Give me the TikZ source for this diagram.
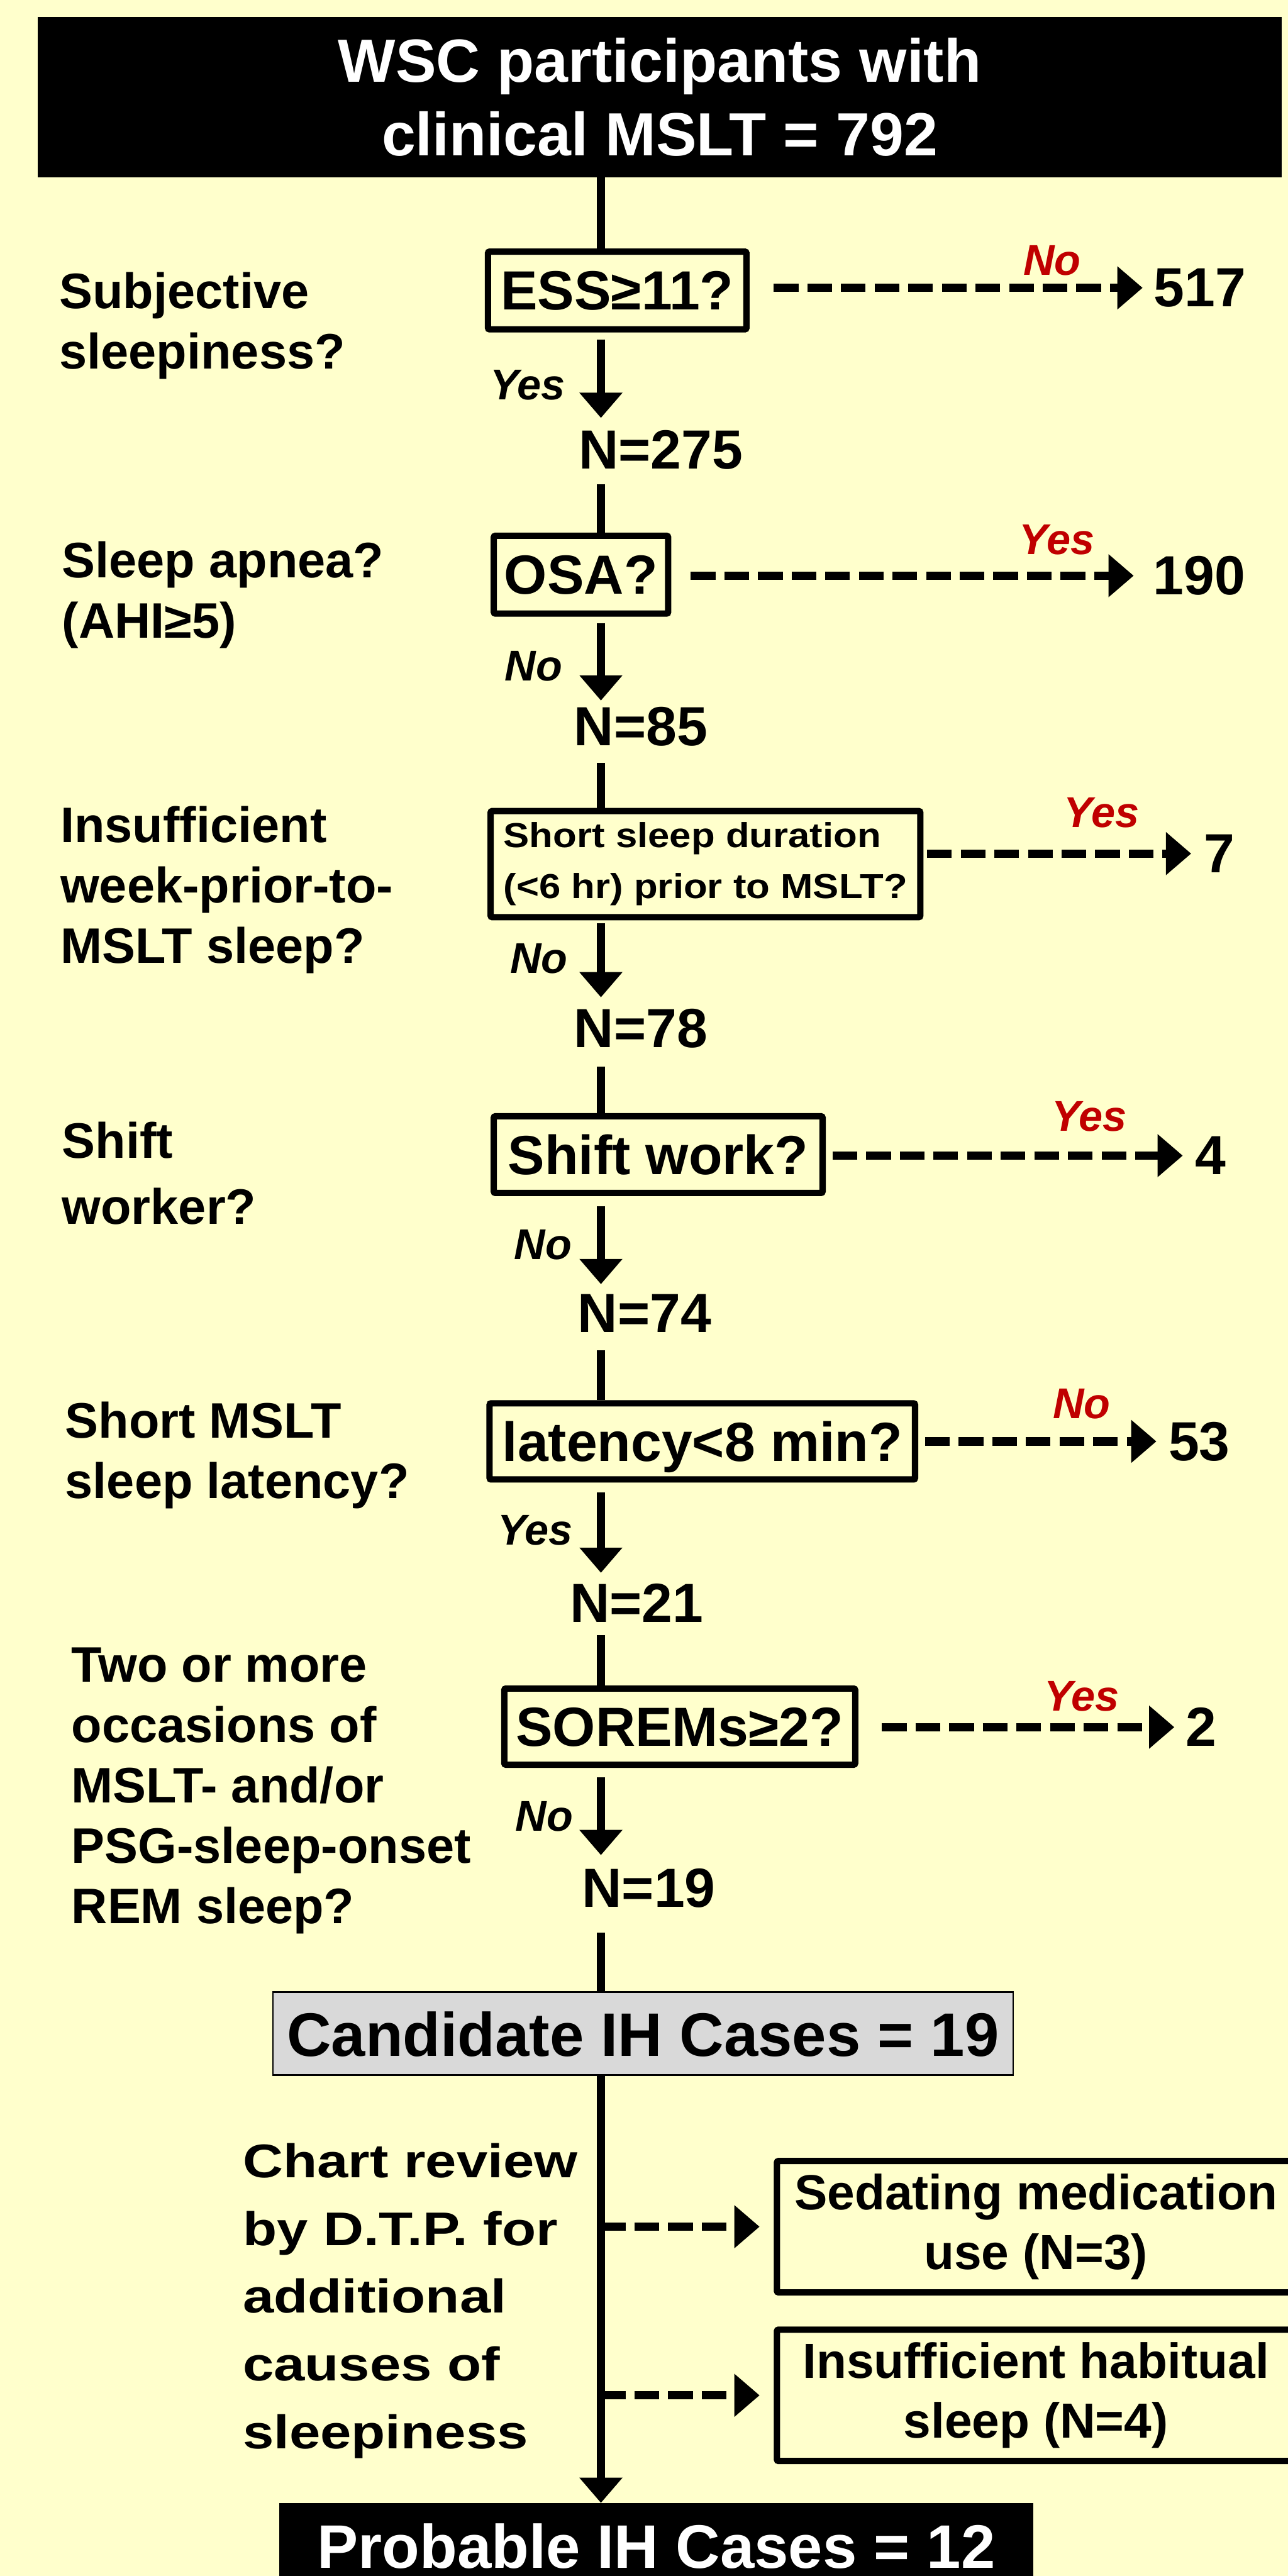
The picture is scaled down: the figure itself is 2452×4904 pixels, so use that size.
\documentclass[tikz,border=0pt]{standalone}
\usepackage{fontspec}
\setmainfont{Liberation Sans}
\newfontfamily\widefont[FakeStretch=1.18]{Liberation Sans}
\newfontfamily\wideshort[FakeStretch=1.12]{Liberation Sans}
\usetikzlibrary{arrows.meta,calc}
\definecolor{bg}{HTML}{FFFFCC}
\definecolor{nored}{HTML}{C00000}
\definecolor{candgray}{HTML}{D9D9D9}
\begin{document}
\begin{tikzpicture}[x=1pt,y=-1pt,
  qbox/.style={draw=black, line width=12pt, rounded corners=3pt, inner sep=0pt, text depth=0pt, font=\fontsize{105}{120}\selectfont\bfseries},
  nlab/.style={inner sep=0pt, font=\fontsize{105}{120}\selectfont\bfseries},
  side/.style={inner sep=0pt, align=left, anchor=north west, font=\fontsize{95}{115}\selectfont\bfseries},
  yn/.style={inner sep=0pt, font=\fontsize{82}{90}\selectfont\bfseries\itshape},
  ynred/.style={yn, text=nored},
  flow/.style={line width=16pt},
  arr/.style={line width=16pt, -{Triangle[length=48pt,width=79pt]}},
  darr/.style={arr, dash pattern=on 47pt off 17pt},
]
\path[use as bounding box, clip] (0,0) rectangle (2452,4904);
\fill[bg] (0,0) rectangle (2452,4904);
\coordinate (sp) at (1144,0);

% main boxes
\node[fill=black, text=white, minimum width=2368pt, minimum height=306pt, inner sep=0pt, align=center,
      font=\fontsize{116}{140}\selectfont\bfseries] (top) at (1256,185) {WSC participants with\\clinical MSLT = 792};
\node[qbox, minimum width=492pt, minimum height=148pt] (ess) at (1175,553) {ESS≥11?};
\node[qbox, minimum width=332pt, minimum height=148pt] (osa) at (1106,1094) {OSA?};
\node[qbox, minimum width=818pt, minimum height=202pt, text depth=, align=left,
      font=\wideshort\fontsize{66}{97}\selectfont\bfseries] (short) at (1343,1645) {Short sleep duration\\(<6 hr) prior to MSLT?};
\node[qbox, minimum width=626pt, minimum height=146pt] (shift) at (1253,2198) {Shift work?};
\node[qbox, minimum width=810pt, minimum height=145pt] (lat) at (1337,2744) {latency<8 min?};
\node[qbox, minimum width=668pt, minimum height=145pt] (sor) at (1294,3287) {SOREMs≥2?};
\node[draw=black, fill=candgray, line width=3pt, minimum width=1409pt, minimum height=158pt, inner sep=0pt, text depth=0pt,
      font=\fontsize{117}{130}\selectfont\bfseries] (cand) at (1224,3871.5) {Candidate IH Cases = 19};
\node[fill=black, text=white, minimum width=1435pt, minimum height=139pt, inner sep=0pt, text depth=0pt, text height=109pt,
      font=\fontsize{117}{130}\selectfont\bfseries] (prob) at (1249.5,4834.5) {Probable IH Cases = 12};
\node[qbox, minimum width=986pt, minimum height=250pt, text depth=, align=center,
      font=\fontsize{94}{114}\selectfont\bfseries] (sed) at (1972,4239) {Sedating medication\\use (N=3)};
\node[qbox, minimum width=986pt, minimum height=250pt, text depth=, align=center,
      font=\fontsize{94}{114}\selectfont\bfseries] (hab) at (1972,4560) {Insufficient habitual\\sleep (N=4)};

% N labels
\node[nlab] (n275) at (1258,857) {N=275};
\node[nlab] (n85) at (1220,1383) {N=85};
\node[nlab] (n78) at (1220,1958) {N=78};
\node[nlab] (n74) at (1227,2500) {N=74};
\node[nlab] (n21) at (1212,3052) {N=21};
\node[nlab] (n19) at (1235,3595) {N=19};

% excluded counts
\node[nlab] (x517) at (2284,548) {517};
\node[nlab] (x190) at (2283,1096) {190};
\node[nlab] (x7) at (2321,1625) {7};
\node[nlab] (x4) at (2304,2200) {4};
\node[nlab] (x53) at (2283,2744) {53};
\node[nlab] (x2) at (2287,3288) {2};

% red labels
\node[ynred] (r1) at (2003,496) {No};
\node[ynred] (r2) at (2012,1028) {Yes};
\node[ynred] (r3) at (2097,1547) {Yes};
\node[ynred] (r4) at (2074,2125) {Yes};
\node[ynred] (r5) at (2059,2672) {No};
\node[ynred] (r6) at (2059,3229) {Yes};

% black yes/no labels
\node[yn] (b1) at (1005,733) {Yes};
\node[yn] (b2) at (1016,1268) {No};
\node[yn] (b3) at (1026,1825) {No};
\node[yn] (b4) at (1034,2370) {No};
\node[yn] (b5) at (1019,2913) {Yes};
\node[yn] (b6) at (1036,3458) {No};

% left labels
\node[side] (l1) at (113,518) {Subjective\\sleepiness?};
\node[side] (l2) at (118,1031) {Sleep apnea?\\(AHI≥5)};
\node[side] (l3) at (115,1535) {Insufficient\\week-prior-to-\\MSLT sleep?};
\node[side, font=\fontsize{95}{125}\selectfont\bfseries] (l4) at (118,2136) {Shift\\worker?};
\node[side] (l5) at (124,2669) {Short MSLT\\sleep latency?};
\node[side] (l6) at (136,3136) {Two or more\\occasions of\\MSLT- and/or\\PSG-sleep-onset\\REM sleep?};
\node[side, font=\widefont\fontsize{90}{129}\selectfont\bfseries] (l7) at (462,4080) {Chart review\\by D.T.P. for\\additional\\causes of\\sleepiness};

% spine
\draw[flow] (top.south -| sp) -- (ess.north -| sp);
\draw[arr, shorten <=13pt, shorten >=24pt] (ess.south -| sp) -- (n275.north -| sp);
\draw[flow, shorten <=27pt] (n275.south -| sp) -- (osa.north -| sp);
\draw[arr, shorten <=12pt, shorten >=12pt] (osa.south -| sp) -- (n85.north -| sp);
\draw[flow, shorten <=32pt] (n85.south -| sp) -- (short.north -| sp);
\draw[arr, shorten <=6pt, shorten >=22pt] (short.south -| sp) -- (n78.north -| sp);
\draw[flow, shorten <=35pt] (n78.south -| sp) -- (shift.north -| sp);
\draw[arr, shorten <=19pt, shorten >=19pt] (shift.south -| sp) -- (n74.north -| sp);
\draw[flow, shorten <=34pt] (n74.south -| sp) -- (lat.north -| sp);
\draw[arr, shorten <=19pt, shorten >=21pt] (lat.south -| sp) -- (n21.north -| sp);
\draw[flow, shorten <=24pt] (n21.south -| sp) -- (sor.north -| sp);
\draw[arr, shorten <=18pt, shorten >=26pt] (sor.south -| sp) -- (n19.north -| sp);
\draw[flow, shorten <=47pt] (n19.south -| sp) -- (cand.north -| sp);
\draw[arr] (cand.south -| sp) -- (prob.north -| sp);

% exclusion arrows
\draw[darr, shorten <=46pt, shorten >=21pt] (ess.east |- x517.west) -- (x517.west);
\draw[darr, shorten <=37pt, shorten >=37pt] (osa.east |- x190.west) -- (x190.west);
\draw[darr, shorten <=7pt, shorten >=24pt] (short.east |- x7.west) -- (x7.west);
\draw[darr, shorten <=13pt, shorten >=23pt] (shift.east |- x4.west) -- (x4.west);
\draw[darr, shorten <=13pt, shorten >=23pt] (lat.east |- x53.west) -- (x53.west);
\draw[darr, shorten <=45pt, shorten >=22pt] (sor.east |- x2.west) -- (x2.west);

% chart review arrows
\coordinate (j1) at (sp |- sed.west);
\coordinate (j2) at (sp |- hab.west);
\draw[darr, shorten >=27pt] (j1) -- (sed.west);
\draw[darr, shorten >=27pt] (j2) -- (hab.west);
\end{tikzpicture}
\end{document}
